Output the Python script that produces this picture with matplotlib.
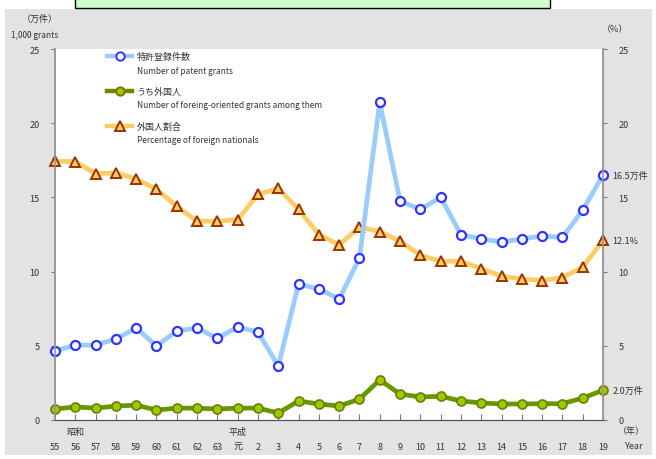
import numpy as np
from matplotlib import pyplot as plt
from matplotlib.patches import Rectangle

plt.rcParams['font.family'] = ['Noto Sans CJK JP', 'DejaVu Sans']

# data
years = ['55','56','57','58','59','60','61','62','63','元','2','3','4','5','6','7','8','9',
         '10','11','12','13','14','15','16','17','18','19']
grants = [4.65,5.05,5.05,5.46,6.2,4.99,6.0,6.2,5.5,6.27,5.93,3.64,9.16,8.83,8.15,10.9,
          21.4,14.75,14.2,15.0,12.5,12.2,12.0,12.2,12.4,12.3,14.15,16.5]
foreign = [0.74,0.88,0.8,0.94,1.0,0.67,0.8,0.8,0.74,0.8,0.8,0.47,1.28,1.08,0.94,1.41,
           2.7,1.75,1.55,1.6,1.28,1.15,1.08,1.08,1.1,1.1,1.48,2.0]
share = [17.45,17.4,16.6,16.65,16.25,15.55,14.4,13.4,13.4,13.5,15.2,15.6,14.2,12.5,11.8,
         13.0,12.7,12.05,11.1,10.7,10.7,10.2,9.7,9.5,9.4,9.6,10.3,12.1]
yticks = [0,5,10,15,20,25]

W, H = 656, 460
fig = plt.figure(figsize=(W/100, H/100), dpi=100)
fig.patch.set_facecolor('white')
# grey panel and the green title box
fig.patches.append(Rectangle((5/W, 4/H), 647/W, 446/H, transform=fig.transFigure,
                             facecolor='#e3e3e3', edgecolor='none', zorder=-10))
fig.patches.append(Rectangle((75/W, 451/H), 475/W, 12/H, transform=fig.transFigure,
                             facecolor='#ccffcc', edgecolor='black', lw=1, zorder=-5))

ax = fig.add_axes([55/W, 39/H, 548/W, 371/H])
ax.set_facecolor('white')
x = np.arange(len(years))

# percentage uses the right axis, which has the same 0-25 scale
ax.plot(x, share, color='#ffcc66', lw=3.4, marker='^', ms=7.5, mfc='#ffcc66',
        mec='#993300', mew=1.4, clip_on=False, zorder=3)
ax.plot(x, grants, color='#99ccff', lw=3.4, marker='o', ms=6.5, mfc='white',
        mec='#3333ff', mew=1.6, clip_on=False, zorder=4)
ax.plot(x, foreign, color='#669900', lw=3.4, marker='o', ms=6.5, mfc='#99cc00',
        mec='#777700', mew=1.2, clip_on=False, zorder=4)

ax2 = ax.twinx()
ax2.patch.set_visible(False)
for a in (ax, ax2):
    a.set_xlim(0, len(years)-1)
    a.set_ylim(0, 25)
    a.set_yticks(yticks)
    a.spines['top'].set_visible(False)
    for s in ('left', 'right'):
        a.spines[s].set_color('#999999')
        a.spines[s].set_linewidth(1.2)
    a.spines['bottom'].set_color('#555555')
    a.tick_params(axis='y', length=3, color='#777777', labelsize=6.5,
                  labelcolor='#333333', pad=8)

ax.set_xticks(x)
ax.set_xticklabels(years)
ax.tick_params(axis='x', direction='in', length=4, color='#777777', labelsize=6.5,
               labelcolor='#333333', pad=16)

# era labels
ax.text(1, -0.75, '昭和', ha='center', va='center', fontsize=6.5, color='#333333')
ax.text(9, -0.75, '平成', ha='center', va='center', fontsize=6.5, color='#333333')

# axis captions
fig.text(40/W, 1-19/H, '（万件）', ha='center', va='center', fontsize=6.5, color='#333333')
fig.text(35/W, 1-36/H, '1,000 grants', ha='center', va='center', fontsize=6, color='#333333')
fig.text(615/W, 1-30/H, '（%）', ha='center', va='center', fontsize=6.5, color='#333333')
fig.text(631/W, 1-432/H, '（年）', ha='center', va='center', fontsize=6.5, color='#333333')
fig.text(634/W, 1-447/H, 'Year', ha='center', va='center', fontsize=6.5, color='#333333')

# end-value labels
ax.text(len(years)-1+0.45, grants[-1], '16.5万件', va='center', fontsize=6.5, color='#333333')
ax.text(len(years)-1+0.45, share[-1], '12.1%', va='center', fontsize=6.5, color='#333333')
ax.text(len(years)-1+0.45, foreign[-1], '2.0万件', va='center', fontsize=6.5, color='#333333')

# legend
legend = [('特許登録件数', 'Number of patent grants', '#99ccff', 'o', 'white', '#3333ff'),
          ('うち外国人', 'Number of foreing-oriented grants among them', '#808000', 'o', '#99cc00', '#777700'),
          ('外国人割合', 'Percentage of foreign nationals', '#ffcc66', '^', '#ffcc66', '#993300')]
for i, (jp, en, lc, mk, fc, ec) in enumerate(legend):
    yy = 1 - (57 + 35*i - 50)/371
    ax.plot([(107-55)/548, (132-55)/548], [yy, yy], transform=ax.transAxes, color=lc,
            lw=3.2, clip_on=False, zorder=5)
    ax.plot([(119.5-55)/548], [yy], transform=ax.transAxes, marker=mk, ms=6 if mk == 'o' else 7,
            mfc=fc, mec=ec, mew=1.4, clip_on=False, zorder=6)
    ax.text((137-55)/548, yy, jp, transform=ax.transAxes, va='center', fontsize=6.5,
            color='#333333')
    ax.text((137-55)/548, yy - 14/371, en, transform=ax.transAxes, va='center', fontsize=6,
            color='#333333')

fig.savefig('out.png', dpi=100)
